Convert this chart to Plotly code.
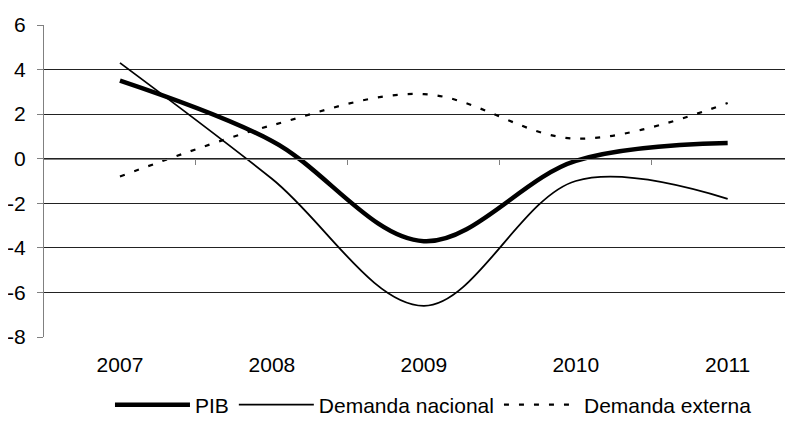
import plotly.graph_objects as go

years = ["2007", "2008", "2009", "2010", "2011"]
pib = [3.5, 0.8, -3.7, -0.1, 0.7]
demanda_nacional = [4.3, -0.9, -6.6, -1.0, -1.8]
demanda_externa = [-0.8, 1.5, 2.9, 0.9, 2.5]
y_ticks = [-8, -6, -4, -2, 0, 2, 4, 6]
y_labels = ["-8", "-6", "-4", "-2", "0", "2", "4", "6"]

font = dict(family="Liberation Sans, Arial, sans-serif", size=21, color="black")

fig = go.Figure()
fig.add_trace(go.Scatter(x=years, y=pib, name="PIB", mode="lines",
                         line=dict(color="black", width=4.5, shape="spline")))
fig.add_trace(go.Scatter(x=years, y=demanda_nacional, name="Demanda nacional", mode="lines",
                         line=dict(color="black", width=1.8, shape="spline")))
fig.add_trace(go.Scatter(x=years, y=demanda_externa, name="Demanda externa", mode="lines",
                         line=dict(color="black", width=2.2, shape="spline", dash="5px,10px")))
# empty trace so the overlaid axis at y=0 is drawn
fig.add_trace(go.Scatter(x=[], y=[], xaxis="x2", showlegend=False, hoverinfo="skip"))

# page body adds an 8px margin, so the figure is 8px smaller than the window
xr = [-0.5, 4.43]
fig.update_layout(
    width=785, height=415,
    margin=dict(l=36, r=0, t=17, b=86, autoexpand=False),
    paper_bgcolor="white", plot_bgcolor="white",
    font=font,
    showlegend=True,
    legend=dict(orientation="h", x=0.52, xanchor="center", y=-0.218, yanchor="middle",
                font=font, itemwidth=75, bgcolor="rgba(0,0,0,0)"),
    xaxis=dict(type="category", range=xr, showgrid=False, showline=False, ticks="",
               ticklabelstandoff=13, tickfont=font, zeroline=False, automargin=False),
    xaxis2=dict(type="linear", overlaying="x", anchor="free", position=8 / 14,
                range=xr, tickvals=[0.5, 1.5, 2.5, 3.5], ticks="outside", ticklen=5,
                tickcolor="#808080", showticklabels=False, showline=True,
                linecolor="#808080", linewidth=1, showgrid=False, zeroline=False),
    yaxis=dict(range=[-8, 6], tickvals=y_ticks, ticktext=y_labels, showgrid=True,
               gridcolor="#222222", gridwidth=1, zeroline=False, showline=True,
               linecolor="#808080", linewidth=1, ticks="outside", ticklen=6,
               tickcolor="#808080", ticklabelstandoff=7, tickfont=font, automargin=False),
)

fig.write_html("out.html")
